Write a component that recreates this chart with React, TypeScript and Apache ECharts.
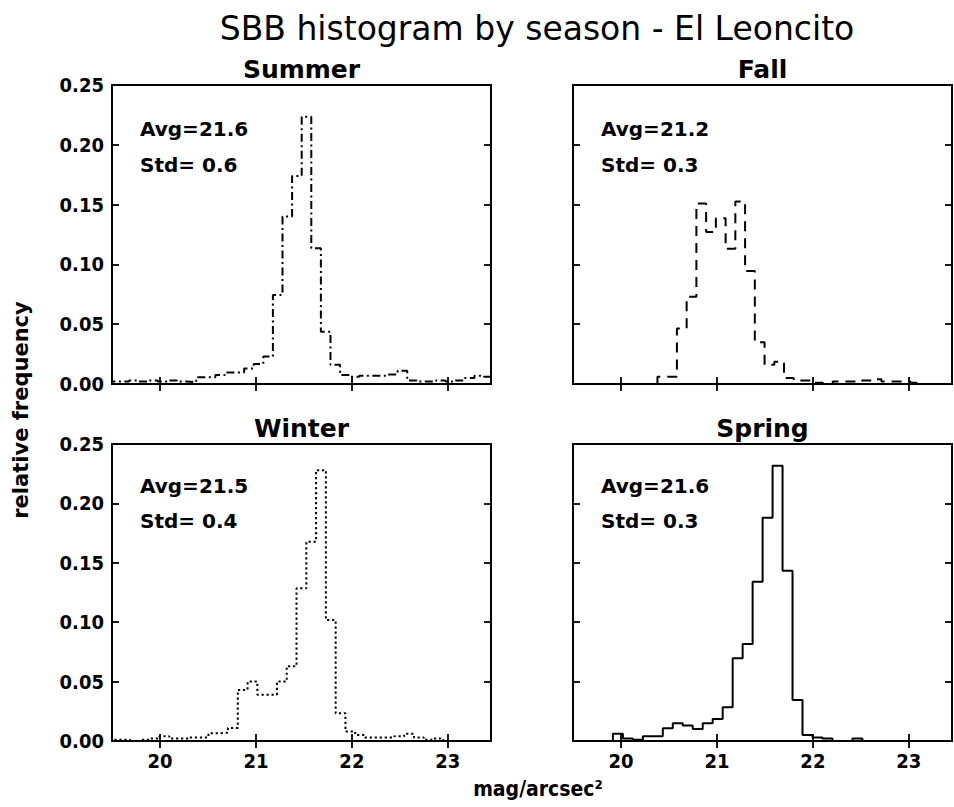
import React, { useEffect, useRef } from "react";
import * as echarts from "echarts";

// ---- data ----
const seasons = ["Summer", "Fall", "Winter", "Spring"];
const avgLabels = ["Avg=21.6", "Avg=21.2", "Avg=21.5", "Avg=21.6"];
const stdLabels = ["Std= 0.6", "Std= 0.3", "Std= 0.4", "Std= 0.3"];
// first bin edge and bin width (mag/arcsec^2) of each season's histogram
const binStarts = [19.477, 20.38, 19.485, 19.5];
const binWidths = [0.1, 0.1015, 0.102, 0.104];

const summerValues = [
  0.002, 0.002, 0.003, 0.002, 0.003, 0.002, 0.003, 0.002, 0.0015, 0.0056,
  0.0056, 0.0075, 0.0097, 0.0097, 0.013, 0.0167, 0.023, 0.0744, 0.14, 0.174,
  0.2235, 0.1134, 0.0437, 0.016, 0.0075, 0.006, 0.007, 0.007, 0.007, 0.008,
  0.011, 0.003, 0.002, 0.002, 0.003, 0.002, 0.003, 0.005, 0.007, 0.006,
];
const fallValues = [
  0.006, 0.006, 0.0465, 0.073, 0.151, 0.127, 0.1385, 0.113, 0.1525, 0.0945,
  0.035, 0.016, 0.0187, 0.005, 0.003, 0.003, 0.001, 0, 0.002, 0.002,
  0.002, 0.003, 0.004, 0.002, 0.002, 0.002, 0.001,
];
const winterValues = [
  0.001, 0.001, 0, 0.001, 0.002, 0.004, 0.002, 0.002, 0.003, 0.003,
  0.0065, 0.007, 0.011, 0.043, 0.05, 0.039, 0.039, 0.05, 0.063, 0.1285,
  0.1678, 0.228, 0.1018, 0.0233, 0.008, 0.005, 0.003, 0.003, 0.003, 0.004,
  0.006, 0.003, 0.001, 0.002,
];
const springValues = [
  0, 0, 0, 0, 0.006, 0.002, 0.001, 0.004, 0.004, 0.0107,
  0.0149, 0.013, 0.0102, 0.0149, 0.0185, 0.0285, 0.0696, 0.0817, 0.134, 0.188,
  0.2317, 0.1434, 0.0345, 0.005, 0.003, 0.002, 0, 0, 0.002, 0,
];
const seasonValues = [summerValues, fallValues, winterValues, springValues];

const xTicks = [20, 21, 22, 23];
const xMin = 19.5;
const xMax = 23.45;
const yMin = 0;
const yMax = 0.25;
const yStep = 0.05;

function stepPoints(start: number, width: number, values: number[]) {
  const pts: number[][] = [[start, 0]];
  values.forEach((v, i) => pts.push([start + i * width, v]));
  const end = start + values.length * width;
  pts.push([end, values[values.length - 1]]);
  pts.push([end, 0]);
  return pts;
}

const FONT = "DejaVu Sans";
const COND = '"DejaVu Sans Condensed", "DejaVu Sans"';

export default function App() {
  const ref = useRef<HTMLDivElement>(null);
  useEffect(() => {
    if (!ref.current) return;
    const chart = echarts.init(ref.current, undefined, { renderer: "svg" });

    const grids = [
      { left: 112, top: 85, width: 379, height: 299 },
      { left: 573, top: 85, width: 379, height: 299 },
      { left: 112, top: 444, width: 379, height: 297 },
      { left: 573, top: 444, width: 379, height: 297 },
    ];
    const dashes: any[] = [[8, 3.5, 2, 3.5], [10, 7], [2.2, 2.8], "solid"];

    const tickStyle = { color: "#000", width: 1.8 };
    const labelStyle = {
      color: "#000",
      fontSize: 20,
      fontWeight: "bold" as const,
      fontFamily: COND,
    };

    const xAxis: any[] = [];
    const yAxis: any[] = [];
    const series: any[] = [];
    const graphic: any[] = [];

    grids.forEach((g, i) => {
      const bottomRow = i >= 2;
      const leftCol = i % 2 === 0;
      xAxis.push({
        type: "value",
        gridIndex: i,
        position: "bottom",
        min: xMin,
        max: xMax,
        axisLine: { show: false },
        splitLine: { show: false },
        axisTick: { show: true, inside: true, length: 7, customValues: xTicks, lineStyle: tickStyle },
        axisLabel: { show: bottomRow, customValues: xTicks, margin: 10, ...labelStyle },
      });
      xAxis.push({
        type: "value",
        gridIndex: i,
        position: "top",
        min: xMin,
        max: xMax,
        axisLine: { show: false },
        splitLine: { show: false },
        axisTick: { show: true, inside: true, length: 7, customValues: xTicks, lineStyle: tickStyle },
        axisLabel: { show: false },
      });
      yAxis.push({
        type: "value",
        gridIndex: i,
        position: "left",
        min: yMin,
        max: yMax,
        interval: yStep,
        axisLine: { show: false },
        splitLine: { show: false },
        axisTick: { show: true, inside: true, length: 7, lineStyle: tickStyle },
        axisLabel: {
          show: leftCol,
          margin: 8,
          formatter: (v: number) => v.toFixed(2),
          ...labelStyle,
        },
      });
      yAxis.push({
        type: "value",
        gridIndex: i,
        position: "right",
        min: yMin,
        max: yMax,
        interval: yStep,
        axisLine: { show: false },
        splitLine: { show: false },
        axisTick: { show: true, inside: true, length: 7, lineStyle: tickStyle },
        axisLabel: { show: false },
      });

      series.push({
        type: "line",
        name: seasons[i],
        xAxisIndex: 2 * i,
        yAxisIndex: 2 * i,
        step: "end",
        symbol: "none",
        clip: true,
        data: stepPoints(binStarts[i], binWidths[i], seasonValues[i]),
        lineStyle: { color: "#000", width: 2, type: dashes[i], cap: "butt" },
      });

      graphic.push({
        type: "text",
        x: g.left + g.width / 2,
        y: g.top - 16,
        style: {
          text: seasons[i],
          align: "center",
          verticalAlign: "middle",
          fill: "#000",
          font: `bold 25px "${FONT}"`,
        },
      });
      const off1 = bottomRow ? 42 : 44;
      const off2 = bottomRow ? 77 : 80;
      graphic.push({
        type: "text",
        x: g.left + 28,
        y: g.top + off1,
        style: { text: avgLabels[i], align: "left", verticalAlign: "middle", fill: "#000", font: `bold 20px "${FONT}"` },
      });
      graphic.push({
        type: "text",
        x: g.left + 28,
        y: g.top + off2,
        style: { text: stdLabels[i], align: "left", verticalAlign: "middle", fill: "#000", font: `bold 20px "${FONT}"` },
      });
    });

    graphic.push({
      type: "text",
      x: 537,
      y: 28,
      style: {
        text: "SBB histogram by season - El Leoncito",
        align: "center",
        verticalAlign: "middle",
        fill: "#000",
        font: `33px "${FONT}"`,
      },
    });
    graphic.push({
      type: "text",
      x: 21,
      y: 410,
      rotation: Math.PI / 2,
      style: {
        text: "relative frequency",
        align: "center",
        verticalAlign: "middle",
        fill: "#000",
        font: `bold 21px "${FONT}"`,
      },
    });
    graphic.push({
      type: "text",
      x: 538,
      y: 789,
      style: {
        text: "mag/arcsec²",
        align: "center",
        verticalAlign: "middle",
        fill: "#000",
        font: `bold 21px ${COND}`,
      },
    });

    chart.setOption({
      animation: false,
      backgroundColor: "#fff",
      grid: grids.map((g) => ({ ...g, show: true, borderColor: "#000", borderWidth: 2, backgroundColor: "transparent" })),
      xAxis,
      yAxis,
      series,
      graphic,
    });
    return () => chart.dispose();
  }, []);
  return (
    <div
      ref={ref}
      style={{ position: "absolute", left: 0, top: 0, width: 954, height: 807 }}
    />
  );
}
